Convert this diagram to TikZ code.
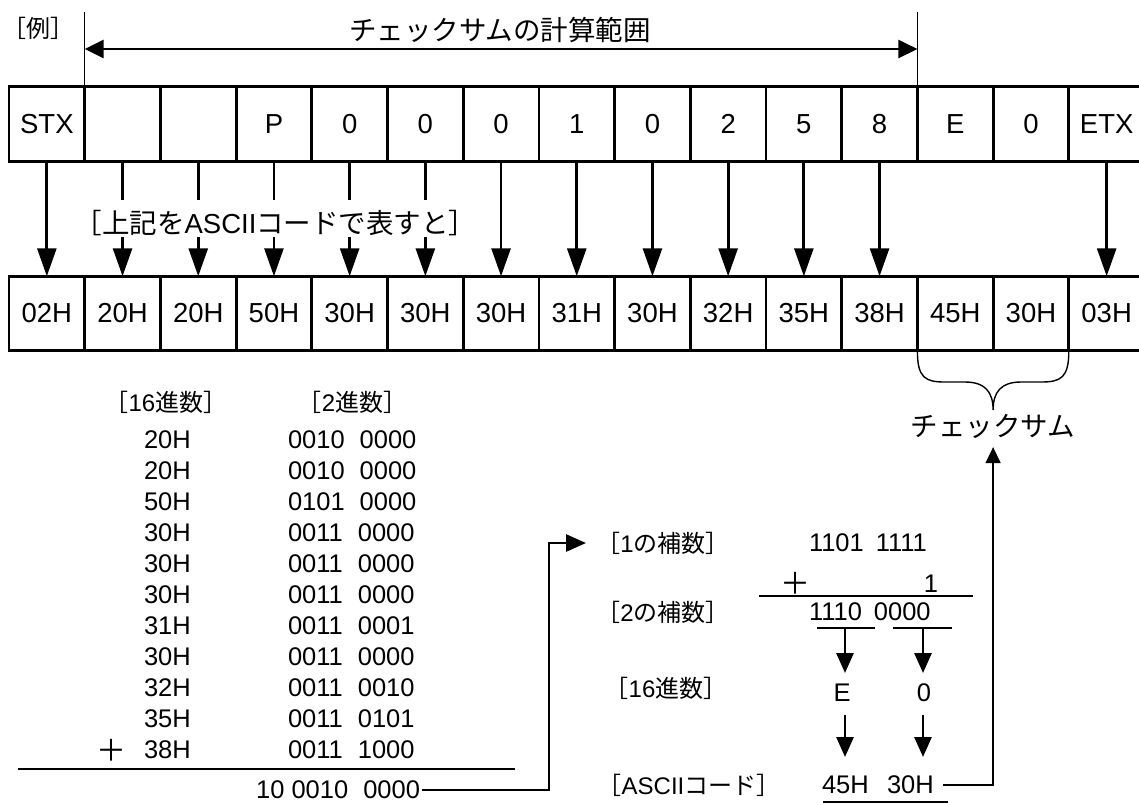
\documentclass[tikz,border=0pt]{standalone}
\usepackage{fontspec}
\setmainfont{Liberation Sans}
\newfontfamily\jpf{Noto Sans CJK JP}
\usetikzlibrary{arrows.meta}
\newcommand\myfCell{\fontsize{27.5}{30}\selectfont}
\newcommand\myfNum{\fontsize{25.5}{28}\selectfont}
\newcommand\myfLab{\fontsize{24}{28}\selectfont}
\newcommand\myfBig{\fontsize{27.5}{30}\selectfont}
\newcommand\myfPlus{\fontsize{30}{32}\selectfont}
\begin{document}
\begin{tikzpicture}[x=1pt,y=-1pt,
  cellbox/.style={draw, line width=2.8pt, rectangle, minimum width=75.7pt, minimum height=74.5pt, inner sep=0pt, outer sep=0pt, font=\myfCell},
  numtxt/.style={inner sep=0pt, outer sep=0pt, font=\myfNum},
  labtxt/.style={inner sep=0pt, outer sep=0pt, font=\myfLab},
  bigtxt/.style={inner sep=0pt, outer sep=0pt, font=\myfBig},
  plustxt/.style={inner sep=0pt, outer sep=0pt, font=\myfPlus},
  thickln/.style={line width=2.8pt},
  thinln/.style={line width=1.4pt},
  bigarr/.style={thickln, -{Triangle[length=28pt,width=19pt]}},
  midarr/.style={thickln, -{Triangle[length=20pt,width=17pt]}},
  lrarr/.style={thickln, {Triangle[length=19pt,width=18pt]}-{Triangle[length=19pt,width=18pt]}},
  uparr/.style={thinln, -{Triangle[length=16pt,width=15pt]}}
]
\useasboundingbox (0,0) rectangle (1139,804);
\clip (0,0) rectangle (1139,804);
\fill[white] (0,0) rectangle (1139,804);

% top row
\foreach \i/\t in {0/STX,1/{},2/{},3/P,4/0,5/0,6/0,7/1,8/0,9/2,10/5,11/8,12/E,13/0,14/ETX}
  \node[cellbox] (t\i) at ({9+75.7*(\i+0.5)},124) {\t};
% bottom row
\foreach \i/\t in {0/02H,1/20H,2/20H,3/50H,4/30H,5/30H,6/30H,7/31H,8/30H,9/32H,10/35H,11/38H,12/45H,13/30H,14/03H}
  \node[cellbox] (b\i) at ({9+75.7*(\i+0.5)},313.5) {\t};

% header
\node[labtxt] (rei) at (38.5,28) {\jpf ［例］};
\node[bigtxt] (title) at (500,30) {\jpf チェックサムの計算範囲};
\coordinate (vtop) at (0,12);
\coordinate (arry) at (0,49);
\draw[thinln] (t1.north west) -- (t1.north west |- vtop);
\draw[thinln] (t12.north west) -- (t12.north west |- vtop);
\draw[lrarr] (t1.north west |- arry) -- (t12.north west |- arry);

% arrows between rows
\foreach \i in {0,6,7,8,9,10,11,14}
  \draw[bigarr] (t\i.south) -- (b\i.north);
\foreach \i in {1,2,3,4,5}{
  \draw[thickln] (t\i.south) -- ([yshift=-39pt]t\i.south);
  \draw[bigarr] ([yshift=39pt]b\i.north) -- (b\i.north);
}
\node[bigtxt] (ascl) at (275.5,223) {{\jpf ［上記を}ASCII{\jpf コードで表すと］}};

% brace and checksum
\coordinate (bt) at (993.1,410);
\draw[thinln] (b12.south west) .. controls +(0,27) and +(-20,0) .. (945,382) -- (965,382)
  .. controls +(20,0) and +(0,-18) .. (bt)
  .. controls +(0,-18) and +(-20,0) .. (1021,382) -- (1041,382)
  .. controls +(20,0) and +(0,27) .. (b13.south east);
\node[bigtxt] (cs) at (993.1,426) {\jpf チェックサム};

% left calculation
\node[labtxt] (hx16) at (166,402) {{\jpf ［}16{\jpf 進数］}};
\node[labtxt] (hx2) at (352.5,402) {{\jpf ［}2{\jpf 進数］}};
\foreach \k/\h/\a/\b in {0/20H/0010/0000,1/20H/0010/0000,2/50H/0101/0000,3/30H/0011/0000,4/30H/0011/0000,5/30H/0011/0000,6/31H/0011/0001,7/30H/0011/0000,8/32H/0011/0010,9/35H/0011/0101,10/38H/0011/1000}{
  \node[numtxt, anchor=west] (h\k) at (144,{440+31*\k}) {\h};
  \node[numtxt, anchor=west] (n\k) at (288,{440+31*\k}) {\a\hspace{15pt}\b};
}
\node[plustxt] (plA) at (111,750) {\jpf ＋};
\coordinate (lA1) at (18,769);
\coordinate (lA2) at (515,769);
\draw[thickln] (lA1) -- (lA2);
\node[numtxt, anchor=east] (sum) at (420,790) {10 0010\hspace{15pt}0000};
\coordinate (c1) at (549,543);
\coordinate (k1tip) at (586,543);
\draw[midarr] ([xshift=2pt]sum.east) -| (c1) -- (k1tip);

% right calculation
\node[labtxt] (k1) at (663,543) {{\jpf ［}1{\jpf の補数］}};
\node[numtxt, anchor=west] (v1) at (809,543) {1101\hspace{12pt}1111};
\node[plustxt] (plB) at (795,583) {\jpf ＋};
\node[numtxt, anchor=east] (one) at (938,584) {1};
\coordinate (lB1) at (759,596);
\coordinate (lB2) at (973,596);
\draw[thickln] (lB1) -- (lB2);
\node[labtxt] (k2) at (663,612) {{\jpf ［}2{\jpf の補数］}};
\node[numtxt, anchor=west] (v2) at (809,612) {1110\hspace{12pt}0000};
\coordinate (u1a) at (817,628); \coordinate (u1b) at (875,628);
\coordinate (u2a) at (893,628); \coordinate (u2b) at (952,628);
\draw[line width=2.5pt] (u1a) -- (u1b);
\draw[line width=2.5pt] (u2a) -- (u2b);
\node[labtxt] (k3) at (666,688) {{\jpf ［}16{\jpf 進数］}};
\node[numtxt] (hE) at (842,693) {E};
\node[numtxt] (h0) at (924,693) {0};
\coordinate (d1a) at (845,628); \coordinate (d1b) at (845,673);
\coordinate (d2a) at (923,628); \coordinate (d2b) at (923,673);
\draw[midarr] (d1a) -- (d1b);
\draw[midarr] (d2a) -- (d2b);
\coordinate (e1a) at (845,715); \coordinate (e1b) at (845,757);
\coordinate (e2a) at (923,715); \coordinate (e2b) at (923,757);
\draw[midarr] (e1a) -- (e1b);
\draw[midarr] (e2a) -- (e2b);
\node[labtxt] (k4) at (689,785) {{\jpf ［}ASCII{\jpf コード］}};
\node[numtxt, anchor=west] (a45) at (822,785) {45H};
\node[numtxt, anchor=west] (a30) at (887,785) {30H};
\coordinate (ul1) at (823,802); \coordinate (ul2) at (948,802);
\draw[thickln] (ul1) -- (ul2);
\draw[uparr] ([xshift=9pt]a30.east) -| ([yshift=-9pt]cs.south);
\end{tikzpicture}
\end{document}
